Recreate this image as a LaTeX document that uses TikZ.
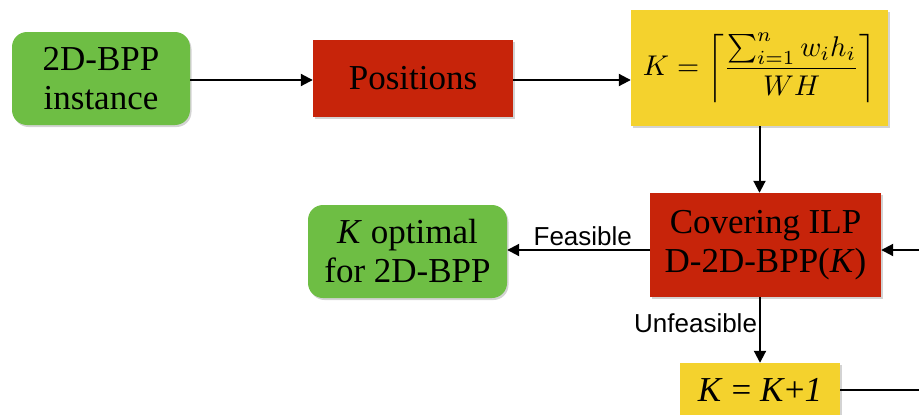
\documentclass[tikz,border=0pt]{standalone}
\usepackage{graphicx}
\usepackage{fontspec}
\setmainfont{Liberation Serif}
\newfontfamily\labfont{Liberation Sans}
\usetikzlibrary{shadows,arrows.meta,calc}
\definecolor{boxgreen}{RGB}{110,190,68}
\definecolor{boxred}{RGB}{199,36,10}
\definecolor{boxyellow}{RGB}{244,210,45}
\tikzset{
  basebox/.style={draw=none, inner sep=0pt, align=center, font=\fontsize{35}{39}\selectfont,
    drop shadow={shadow xshift=1.5pt, shadow yshift=-2pt, opacity=0.35}},
  greenbox/.style={basebox, fill=boxgreen, rounded corners=15pt},
  redbox/.style={basebox, fill=boxred},
  yellowbox/.style={basebox, fill=boxyellow},
  arr/.style={line width=2pt, -{Triangle[length=12pt,width=12pt]}},
  plainline/.style={line width=2pt},
  lab/.style={font=\labfont\fontsize{26}{29}\selectfont, inner sep=3pt}
}
\begin{document}
\begin{tikzpicture}[x=1pt,y=-1pt]
\useasboundingbox (0,0) rectangle (919,415);
\clip (0,0) rectangle (919,415);
\node[greenbox, minimum width=178pt, minimum height=93pt] (inst) at (101,78.5) {2D-BPP\\instance};
\node[redbox, minimum width=200pt, minimum height=77pt] (pos) at (413,78.5) {Positions};
\node[yellowbox, minimum width=257pt, minimum height=116pt, font=\fontsize{10}{12}\selectfont] (form) at (759.5,68)
  {\scalebox{2.85}{$\displaystyle K=\left\lceil\frac{\sum_{i=1}^{n} w_i h_i}{WH}\right\rceil$}};
\node[redbox, minimum width=231pt, minimum height=104pt] (cov) at (765.5,245) {Covering ILP\\D-2D-BPP(\textit{K})};
\node[greenbox, minimum width=199pt, minimum height=93pt] (opt) at (407.5,251.5) {\textit{K} optimal\\for 2D-BPP};
\node[yellowbox, minimum width=160pt, minimum height=54pt] (kk) at (760,390) {\textit{K} = \textit{K}+\textit{1}};
\coordinate (rin) at (919,250);
\coordinate (rout) at (919,390);
\draw[arr] (inst.east |- 0,80) -- (pos.west |- 0,80);
\draw[arr] (pos.east |- 0,80) -- (form.west |- 0,80);
\draw[arr] (form.south) -- (form.south |- cov.north);
\draw[arr] (cov.west |- rin) -- node[lab, above, pos=0.47] {Feasible} (opt.east |- rin);
\draw[arr] (kk.north |- cov.south) -- node[lab, left, pos=0.4, inner sep=2pt] {Unfeasible} (kk.north);
\draw[arr] (rin) -- (cov.east |- rin);
\draw[plainline] (kk.east |- rout) -- (rout);
\end{tikzpicture}
\end{document}
